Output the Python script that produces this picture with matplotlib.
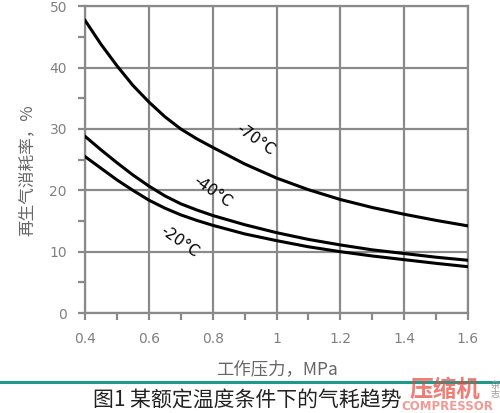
import matplotlib
matplotlib.use('Agg')
import matplotlib.pyplot as plt
from matplotlib.ticker import MultipleLocator, FuncFormatter
from matplotlib.lines import Line2D

plt.rcParams['font.family'] = ['Noto Sans CJK SC', 'DejaVu Sans']

# pressure, MPa
pressure = [0.40, 0.45, 0.50, 0.55, 0.60, 0.65, 0.70, 0.75, 0.80,
            0.9, 1.0, 1.1, 1.2, 1.3, 1.4, 1.5, 1.6]
# regeneration air consumption, %
t_minus70 = [47.7, 43.8, 40.3, 37.1, 34.4, 32.0, 30.0, 28.4, 27.0,
             24.3, 22.0, 20.1, 18.5, 17.2, 16.1, 15.1, 14.2]
t_minus40 = [28.8, 26.6, 24.5, 22.5, 20.7, 19.1, 17.8, 16.8, 15.9,
             14.4, 13.1, 12.0, 11.1, 10.3, 9.7, 9.1, 8.6]
t_minus20 = [25.5, 23.6, 21.7, 20.0, 18.4, 17.1, 16.0, 15.1, 14.3,
             12.9, 11.8, 10.8, 10.0, 9.3, 8.7, 8.1, 7.55]
curve_labels = ['-70°C', '-40°C', '-20°C']

grid_color = '#8a8a8a'
tick_color = '#808080'

fig = plt.figure(figsize=(5.0, 4.13), dpi=100)
ax = fig.add_axes([0.17, 0.242, 0.766, 0.743])

for series in [t_minus70, t_minus40, t_minus20]:
    ax.plot(pressure, series, color='black', lw=2.2, solid_joinstyle='round', zorder=3)

ax.set_xlim(0.4, 1.6)
ax.set_ylim(0, 50)
ax.xaxis.set_major_locator(MultipleLocator(0.2))
ax.xaxis.set_minor_locator(MultipleLocator(0.1))
ax.yaxis.set_major_locator(MultipleLocator(10))
ax.yaxis.set_minor_locator(MultipleLocator(5))
ax.xaxis.set_major_formatter(FuncFormatter(lambda v, p: f'{v:g}'))
ax.grid(which='major', color=grid_color, lw=1.6)
for s in ax.spines.values():
    s.set_color(grid_color)
    s.set_linewidth(1.6)
ax.tick_params(which='both', direction='out', color=grid_color, width=1.6,
               labelcolor=tick_color, labelsize=10, length=5)
ax.tick_params(axis='x', pad=9)
ax.tick_params(axis='y', pad=8)
for lbl in ax.get_xticklabels() + ax.get_yticklabels():
    lbl.set_family(['DejaVu Sans'])

# curve labels
ax.text(0.935, 28.3, curve_labels[0], rotation=-35, fontsize=11, ha='center', va='center',
        family=['DejaVu Sans'])
ax.text(0.80, 19.7, curve_labels[1], rotation=-35, fontsize=11, ha='center', va='center',
        family=['DejaVu Sans'])
ax.text(0.695, 11.6, curve_labels[2], rotation=-35, fontsize=11, ha='center', va='center',
        family=['DejaVu Sans'])

ax.set_ylabel('再生气消耗率，%', fontsize=12, color='#666666')
ax.yaxis.set_label_coords(-0.13, 0.466)
ax.set_xlabel('工作压力，MPa', fontsize=12.5, color='#666666', labelpad=10)

# teal rule and caption
fig.add_artist(Line2D([0, 1], [1 - 382 / 413] * 2, color='#1f9a8a', lw=2.2,
                      transform=fig.transFigure))
fig.text(0.495, 1 - 401 / 413, '图1 某额定温度条件下的气耗趋势', fontsize=15,
         color='#222222', ha='center', va='center')

# magazine watermark
fig.text(0.89, 1 - 390 / 413, '压缩机', fontsize=17, fontweight='bold',
         color='#e8463c', alpha=0.7, ha='center', va='center')
fig.text(0.895, 1 - 406 / 413, 'COMPRESSOR', fontsize=8.5, fontweight='bold',
         color='#e8463c', alpha=0.55, ha='center', va='center', family=['DejaVu Sans'])
fig.text(0.99, 1 - 390 / 413, '杂\n志', fontsize=6.5, color='#999999',
         ha='center', va='center', linespacing=1.0)

fig.savefig('out.png', dpi=100)
